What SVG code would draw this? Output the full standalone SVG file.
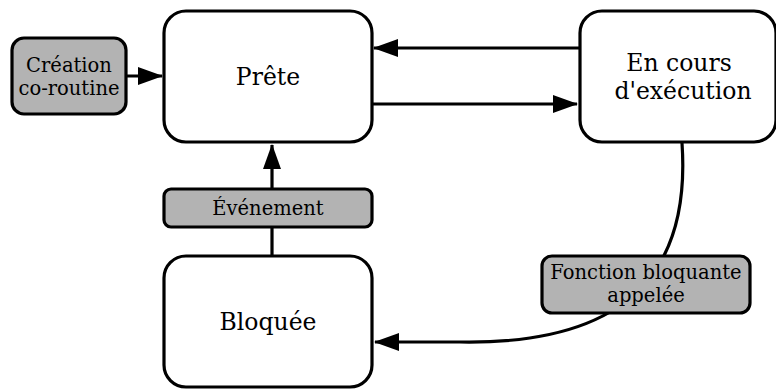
<svg xmlns="http://www.w3.org/2000/svg" width="776" height="390" viewBox="0 0 776 390">
  <defs>
    <style>
      .state { fill: #ffffff; stroke: #000000; stroke-width: 3.2; }
      .event { fill: #b3b3b3; stroke: #000000; stroke-width: 3.2; }
      .edge { fill: none; stroke: #000000; stroke-width: 3.2; }
      text { font-family: "DejaVu Serif", "Liberation Serif", serif; fill: #000000; text-anchor: middle; }
      .big { font-size: 23.5px; }
      .small { font-size: 19.5px; }
    </style>
    <marker id="arrow" viewBox="0 0 25 18" refX="24" refY="9" markerWidth="25" markerHeight="18" markerUnits="userSpaceOnUse" orient="auto">
      <path d="M0,0 L25,9 L0,18 Z" fill="#000000"/>
    </marker>
  </defs>
  <rect width="776" height="390" fill="#ffffff"/>

  <g id="connectors">
    <line class="edge" x1="126" y1="76" x2="162" y2="76" marker-end="url(#arrow)"/>
    <line class="edge" x1="579" y1="48" x2="374" y2="48" marker-end="url(#arrow)"/>
    <line class="edge" x1="372" y1="104" x2="577" y2="104" marker-end="url(#arrow)"/>
    <line class="edge" x1="272" y1="256" x2="272" y2="145" marker-end="url(#arrow)"/>
    <path class="edge" d="M682,143 C690,260 640,345 460,342 L375,342" marker-end="url(#arrow)"/>
  </g>

  <g id="creation">
    <rect class="event" x="12" y="38" width="114" height="76" rx="12"/>
    <text class="small" x="69" y="72">Création</text>
    <text class="small" x="69" y="95">co-routine</text>
  </g>

  <g id="prete">
    <rect class="state" x="164" y="11" width="208" height="131" rx="22"/>
    <text class="big" x="268" y="85">Prête</text>
  </g>

  <g id="en-cours">
    <rect class="state" x="580" y="11" width="196" height="131" rx="22"/>
    <text class="big" x="679" y="71">En cours</text>
    <text class="big" x="683" y="99">d'exécution</text>
  </g>

  <g id="evenement">
    <rect class="event" x="164" y="189" width="208" height="38" rx="7"/>
    <text class="small" x="268" y="215">Événement</text>
  </g>

  <g id="bloquee">
    <rect class="state" x="164" y="256" width="208" height="131" rx="22"/>
    <text class="big" x="268" y="330">Bloquée</text>
  </g>

  <g id="fonction-bloquante">
    <rect class="event" x="542" y="256" width="208" height="57" rx="10"/>
    <text class="small" x="646" y="279">Fonction bloquante</text>
    <text class="small" x="646" y="302">appelée</text>
  </g>
</svg>
